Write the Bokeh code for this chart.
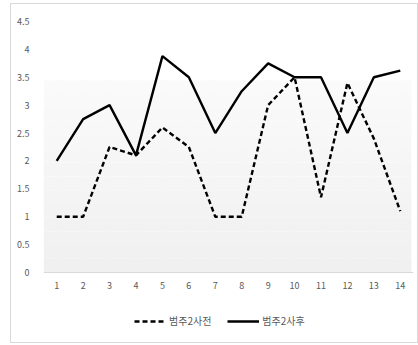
from bokeh.plotting import figure
from bokeh.models import Legend, LegendItem, BoxAnnotation, FixedTicker, Range1d
from bokeh.embed import file_html
from bokeh.resources import INLINE

# session number and scores before / after
sessions = list(range(1, 15))
before = [1, 1, 2.25, 2.1, 2.6, 2.25, 1, 1, 3, 3.5, 1.35, 3.4, 2.4, 1.1]
after = [2, 2.75, 3, 2.1, 3.88, 3.5, 2.5, 3.25, 3.75, 3.5, 3.5, 2.5, 3.5, 3.62]
y_ticks = [0, 0.5, 1, 1.5, 2, 2.5, 3, 3.5, 4, 4.5]
label_before = "범주2사전"
label_after = "범주2사후"

FONT = "Noto Sans CJK KR"
GREY_TXT = "#595959"

# the frame runs down to the bottom edge so the legend can live inside it;
# the x axis is pinned at y = 0
p = figure(width=408, height=340, output_backend="svg", toolbar_location=None,
           x_range=Range1d(0.5, 14.5), y_range=Range1d(-1.237, 4.5),
           min_border_left=32, min_border_right=6, min_border_top=17,
           min_border_bottom=3)
p.margin = (3, 0, 0, 10)
p.styles = {"border": "1px solid #d9d9d9", "box-sizing": "border-box"}
p.outline_line_color = None
p.background_fill_color = "white"

# soft grey plot-area band with a light top-to-bottom gradient
bands = 14
top = 3.44
for i in range(bands):
    lo = top * i / bands
    hi = top * (i + 1) / bands
    shade = 240 + int(round(10 * i / (bands - 1)))
    p.add_layout(BoxAnnotation(bottom=lo, top=hi, left=0.5, right=14.42,
                               fill_color=(shade, shade, shade), fill_alpha=1,
                               line_color=None, level="underlay"))

# vertical category gridlines
p.segment(x0=sessions, y0=[0] * len(sessions), x1=sessions, y1=[top] * len(sessions),
          line_color="#e0e0e0", line_width=1, level="underlay")

r_before = p.line(sessions, before, line_color="black", line_width=2.4, line_dash="5 3")
r_after = p.line(sessions, after, line_color="black", line_width=2.4)

p.xgrid.visible = False
p.ygrid.visible = False

p.xaxis.fixed_location = 0
p.xaxis.ticker = FixedTicker(ticks=sessions)
p.yaxis.ticker = FixedTicker(ticks=y_ticks)
p.yaxis.major_label_overrides = {0: "0", 1: "1", 2: "2", 3: "3", 4: "4"}
for ax in (p.xaxis[0], p.yaxis[0]):
    ax.axis_line_color = None
    ax.major_tick_line_color = None
    ax.minor_tick_line_color = None
    ax.major_label_text_font = FONT
    ax.major_label_text_font_size = "9px"
    ax.major_label_text_color = GREY_TXT
p.xaxis.axis_line_color = "#d9d9d9"
p.xaxis.major_label_standoff = 3
p.yaxis.major_label_standoff = 8

# legend under the axis labels, positioned relative to the frame
legend = Legend(items=[LegendItem(label=label_before, renderers=[r_before]),
                       LegendItem(label=label_after, renderers=[r_after])],
                orientation="horizontal", location=(91, 13),
                label_text_font=FONT, label_text_font_size="10px",
                label_text_color=GREY_TXT, glyph_width=32, glyph_height=12,
                spacing=16, border_line_color=None, background_fill_alpha=0,
                padding=0, margin=0, label_standoff=3, label_height=12)
p.add_layout(legend)

open("out.html", "w").write(file_html(p, INLINE))
